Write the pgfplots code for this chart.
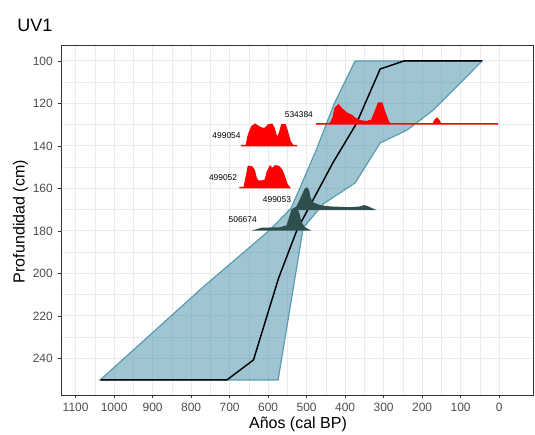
\documentclass[border=0pt]{standalone}
\usepackage{pgfplots}
\pgfplotsset{compat=1.18}
\usepackage{fontspec}
\setmainfont{Liberation Sans}

\definecolor{envfill}{HTML}{3F8CA8}
\definecolor{envline}{HTML}{5A9BB0}
\definecolor{dateDark}{HTML}{2F4F4F}
\definecolor{gridgray}{HTML}{EBEBEB}
\definecolor{ticktext}{HTML}{4D4D4D}
\definecolor{frame}{HTML}{333333}

\begin{document}
\begin{tikzpicture}
\begin{axis}[
    scale only axis,
    width=354pt, height=262.5pt,
    at={(45.75pt,30pt)}, anchor=south west,
    x dir=reverse, y dir=reverse,
    xmin=-88, xmax=1138,
    ymin=92.5, ymax=257.2,
    xtick={0,100,...,1100},
    ytick={100,120,...,240},
    minor x tick num=1, minor y tick num=1,
    grid=both,
    major grid style={gridgray, line width=0.8pt},
    minor grid style={gridgray, line width=0.4pt},
    axis line style={frame, line width=0.7pt},
    tick align=outside, tick pos=left,
    major tick length=2.6pt, minor tick length=0pt,
    tick style={frame, line width=0.6pt},
    ticklabel style={font=\fontsize{9}{10}\selectfont, text=ticktext},
    /pgf/number format/assume math mode=true,
    /pgf/number format/1000 sep={},
]

% age-depth envelope
\addplot[fill=envfill, fill opacity=0.5, draw=envline, line width=0.9pt] coordinates {
    (374,100) (44,100) (171,123.1) (239,132.5) (309,138.6) (374,157.4)
    (457,167.3) (509,178.6) (574,250.1) (1036,250.1) (769,206.4)
    (595,179.5) (540,169.2) (475,141.9) (428.6,120.2)
} -- cycle;

% median model
\addplot[black, line width=1.1pt] coordinates {
    (44,100) (247,100) (309,103.8) (371,129.6) (432,148) (525,179.5)
    (573,202.3) (638,240.7) (707,250.1) (1036,250.1)
};

% calibrated dates
\addplot[fill=red, draw=red, line width=1.1pt] coordinates {
    (475.3,129.6) (439.0,129.6) (431.2,126.8) (426.0,122.3) (417.4,120.7)
    (408.6,122.6) (395.6,124.6) (382.6,125.7) (374.0,127.0) (361.0,128.2)
    (343.6,128.6) (330.6,127.8) (322.1,123.9) (313.5,119.9) (304.7,119.9)
    (296.1,124.6) (287.5,128.7) (283.1,129.6) (171.4,129.6) (166.2,127.8)
    (161.8,127.0) (157.1,127.8) (151.9,129.6) (2.6,129.6)
} -- cycle;

\addplot[fill=red, draw=red, line width=1.1pt] coordinates {
    (670.1,139.9) (657,139.9) (651,134.8) (642.3,130.9) (633.8,129.8)
    (625.2,130.9) (616.4,131.7) (607.8,131.7) (599.2,130.1) (590.4,129.8)
    (584.4,131.7) (577.4,136.4) (570.6,134.0) (564.4,130.1) (555.8,130.1)
    (549.9,133.3) (542.9,138.0) (535,139.9) (525.5,139.9)
} -- cycle;

\addplot[fill=red, draw=red, line width=1.1pt] coordinates {
    (674.5,159.6) (662.3,159.6) (657.1,155.1) (651.2,149.6) (642.3,149.9)
    (636.4,151.3) (631.2,155.1) (626,156.5) (615.6,156.5) (607.8,156.2)
    (601.8,152.2) (594.8,149.6) (587.8,150.8) (581.8,149.4) (573.2,149.6)
    (564.4,151.3) (558.4,154.1) (551.4,157.9) (544.7,159.6)
} -- cycle;

\addplot[fill=dateDark, draw=dateDark, line width=1.1pt] coordinates {
    (535,169.8) (524.7,168.6) (512.5,163.9) (503.9,160.4) (499.5,159.9)
    (495.3,161.0) (490.9,164.9) (482.3,167.0) (464.9,168.2) (438.9,168.8)
    (387,169.2) (361,168.8) (350.6,168.2) (342.9,168.6) (328,169.8)
} -- cycle;

\addplot[fill=dateDark, draw=dateDark, line width=1.1pt] coordinates {
    (629.4,179.5) (615.6,178.8) (568.8,178.6) (550.6,177.6) (544.2,173.9)
    (538.4,170.6) (529.9,169.4) (521.3,171.1) (515.6,175.8) (506.5,178.4)
    (495.3,179.5)
} -- cycle;

\begin{scope}[every node/.style={anchor=east, inner sep=0pt, font=\fontsize{6.3}{7}\selectfont}]
\node at (axis cs:483,125.1) {534384};
\node at (axis cs:671,135.2) {499054};
\node at (axis cs:680,154.9) {499052};
\node at (axis cs:540,165.4) {499053};
\node at (axis cs:629,174.8) {506674};
\end{scope}
\end{axis}

\node[anchor=base west, inner sep=0pt, font=\fontsize{13.5}{15}\selectfont] at (12.75pt,302.25pt) {UV1};
\node[anchor=base, inner sep=0pt, font=\fontsize{12}{14}\selectfont] at (223.5pt,4.5pt) {Años (cal BP)};
\node[anchor=base, rotate=90, inner sep=0pt, font=\fontsize{12}{14}\selectfont] at (18.4pt,160pt) {Profundidad (cm)};

\pgfresetboundingbox
\path (0pt,0pt) rectangle (401.25pt,326.25pt);
\end{tikzpicture}
\end{document}
